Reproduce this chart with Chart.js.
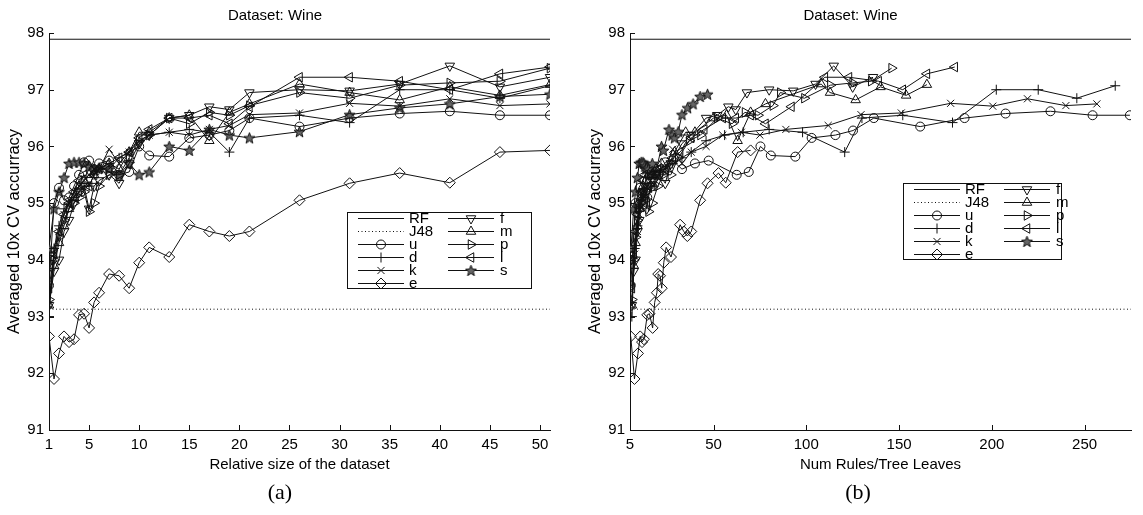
<!DOCTYPE html>
<html><head><meta charset="utf-8">
<script src="https://cdn.jsdelivr.net/npm/chart.js@4.4.1/dist/chart.umd.min.js"></script>
<style>
html,body{margin:0;padding:0;background:#fff;}
#wrap{position:relative;width:1143px;height:515px;overflow:hidden;background:#fff;}
#cA{position:absolute;left:0;top:0;width:570px;height:515px;}
#cB{position:absolute;left:570px;top:0;width:573px;height:515px;}
.cap{position:absolute;top:480px;height:24px;line-height:24px;width:60px;text-align:center;font-family:"Liberation Serif","DejaVu Serif",serif;font-size:22px;color:#000;}
</style></head><body>
<div id="wrap">
<canvas id="cA" width="570" height="515"></canvas>
<canvas id="cB" width="573" height="515"></canvas>
<div class="cap" style="left:250px">(a)</div>
<div class="cap" style="left:828px">(b)</div>
</div>
<script>
// ---------------- data ----------------
const chartTitle = 'Dataset: Wine';
const yTitle = 'Averaged 10x CV accurracy';
const xTitleA = 'Relative size of the dataset';
const xTitleB = 'Num Rules/Tree Leaves';
const seriesNames = ['RF','J48','u','d','k','e','f','m','p','l','s'];
const rfAcc = 97.89;
const j48Acc = 93.13;
const yTicks = [91,92,93,94,95,96,97,98];
const xTicksA = [1,5,10,15,20,25,30,35,40,45,50];
const xTicksB = [5,50,100,150,200,250];
const xRangeA = [1,51];
const xRangeB = [5,275];
const yRange = [91,98];

const relSize = [1,1.5,2,2.5,3,3.5,4,4.5,5,5.5,6,7,8,9,10,11,13,15,17,19,21,26,31,36,41,46,51];

const accU = [93.55,95.0,95.27,95.05,95.1,95.3,95.5,95.72,95.75,95.6,95.7,95.75,95.5,95.55,96.0,95.84,95.82,96.15,96.2,96.28,96.5,96.35,96.5,96.58,96.62,96.55,96.55];
const accD = [93.0,94.2,94.6,94.9,95.0,95.1,95.2,95.3,95.3,95.5,95.6,95.7,95.8,95.9,96.1,96.2,96.25,96.3,96.25,95.9,96.5,96.55,96.42,97.0,97.0,96.85,97.07];
const accK = [93.2,94.1,94.5,94.8,95.0,95.2,95.3,95.4,95.5,95.6,95.6,95.95,95.7,95.9,96.0,96.2,96.25,96.2,96.3,96.37,96.56,96.59,96.76,96.71,96.84,96.72,96.75];
const accE = [92.65,91.9,92.35,92.65,92.55,92.6,93.03,93.05,92.8,93.25,93.42,93.75,93.72,93.5,93.95,94.22,94.05,94.62,94.5,94.42,94.5,95.05,95.35,95.53,95.36,95.9,95.93];
const accF = [93.2,93.8,94.0,94.5,94.7,95.0,95.2,95.3,94.9,95.3,95.4,95.5,95.35,95.7,96.05,96.2,96.5,96.55,96.7,96.65,96.95,97.0,96.98,97.1,97.42,97.05,97.22];
const accM = [93.2,93.9,94.3,94.6,94.9,95.1,95.3,95.4,95.5,95.5,95.6,95.7,95.6,95.9,96.25,96.25,96.5,96.55,96.1,96.6,96.75,97.1,96.95,96.82,97.05,96.9,97.09];
const accP = [93.3,94.0,94.4,94.7,94.9,95.0,95.1,95.2,94.85,95.0,95.3,95.5,95.5,95.8,96.1,96.2,96.5,96.4,96.6,96.55,96.72,96.95,96.85,97.08,97.12,97.15,97.38];
const accL = [93.5,94.1,94.5,94.8,95.0,95.2,95.4,95.5,95.3,95.5,95.6,95.6,95.8,95.9,96.15,96.3,96.5,96.5,96.55,96.4,96.7,97.22,97.22,97.15,97.0,97.28,97.4];
const accS = [94.2,94.9,95.2,95.45,95.7,95.72,95.72,95.7,95.65,95.6,95.62,95.6,95.5,95.7,95.5,95.55,96.0,95.93,96.3,96.2,96.15,96.26,96.56,96.68,96.75,96.88,96.92];

const rulesU = [5.4,8,10.3,12,14.3,17,20.2,24,28,33,40,47.4,62.5,69,75.3,80.9,94.1,102.9,115.7,125.2,136.4,161.4,185.3,207.4,231.6,254.3,274.4];
const rulesD = [6,7.5,9,10,11,12.5,14,16,18,21,24,28,33,38,46,56,66,80,98,120.7,130,152,178.8,202.4,225,245.8,266.5];
const rulesK = [6,7.5,9,10,11,12.5,14,16,18,21,24,28,33,38,46,55,65,75,89,111.8,129.5,151.2,177.8,200.5,219.2,239.9,256.6];
const rulesE = [5.4,7.4,9.3,10.5,11.5,12.5,14.3,15.5,17.2,18.3,19.5,20.2,21.2,22.1,23.2,24.5,27.1,32,34,35.9,38,42.8,46.8,52.7,56.6,63,70];
const rulesF = [6,7,8,9,10,11,12,13,14,16,18,21,24,27,33,38,46,52,58,62,68,80,93,105,114.8,125,136];
const rulesM = [6,7,8,9,10,11,12,13.5,15,17,19,22,25,29,35,40,50,57,63,70,78,108,112.8,126.6,140,153.8,165];
const rulesP = [6,7,8,9,10,11,12.5,14,15,17,20,23,27,31,37,43,52,60,67,74,82,86,99,113,125,135,146];
const rulesL = [6,7,8,9,10,11,12,13,15,17,20,24,28,32,38,45,55,62,70,78,92,110,123,139,152,165,180];
const rulesS = [5.5,7,8,9,10,11,12,12.5,13,13.5,14,15,16.5,17,18,19,22,23,26,27.7,29,31,33,36,39,42.8,46.8];

// ---------------- styles ----------------
const FONT = '"Liberation Sans", Arial, Helvetica, sans-serif';
Chart.defaults.font.family = FONT;
Chart.defaults.font.size = 15;
Chart.defaults.color = '#000';
const INK = '#111';

function starImage(){
  const c = document.createElement('canvas');
  c.width = 13; c.height = 13;
  const g = c.getContext('2d');
  g.strokeStyle = INK; g.fillStyle = '#666'; g.lineWidth = 1;
  g.beginPath();
  for (let i = 0; i < 10; i++) {
    const r = i % 2 ? 2.4 : 5.8;
    const a = -Math.PI/2 + i*Math.PI/5;
    const px = 6.5 + r*Math.cos(a), py = 7 + r*Math.sin(a);
    if (i) g.lineTo(px, py); else g.moveTo(px, py);
  }
  g.closePath(); g.fill(); g.stroke();
  return c;
}
const STAR = starImage();

const markerStyle = {
  u: {pointStyle:'circle', pointRadius:4.5, pointRotation:0},
  d: {pointStyle:'cross', pointRadius:5, pointRotation:0},
  k: {pointStyle:'crossRot', pointRadius:5, pointRotation:0},
  e: {pointStyle:'rectRot', pointRadius:5.5, pointRotation:0},
  f: {pointStyle:'triangle', pointRadius:5.5, pointRotation:180},
  m: {pointStyle:'triangle', pointRadius:5.5, pointRotation:0},
  p: {pointStyle:'triangle', pointRadius:5.5, pointRotation:90},
  l: {pointStyle:'triangle', pointRadius:5.5, pointRotation:270},
  s: {pointStyle:STAR, pointRadius:5, pointRotation:0}
};

function zip(xs, ys){ return xs.map((x,i)=>({x:x, y:ys[i]})); }

function buildDatasets(xSets, xRange){
  const accs = {u:accU,d:accD,k:accK,e:accE,f:accF,m:accM,p:accP,l:accL,s:accS};
  const ds = [];
  ds.push({label:'RF', data:[{x:xRange[0],y:rfAcc},{x:xRange[1],y:rfAcc}], borderColor:INK, borderWidth:1, pointRadius:0, showLine:true, fill:false});
  ds.push({label:'J48', data:[{x:xRange[0],y:j48Acc},{x:xRange[1],y:j48Acc}], borderColor:INK, borderWidth:1, borderDash:[1,2.5], pointRadius:0, showLine:true, fill:false});
  ['u','d','k','e','f','m','p','l','s'].forEach(k=>{
    const m = markerStyle[k];
    ds.push(Object.assign({
      label:k, data:zip(xSets[k], accs[k]), borderColor:INK, borderWidth:1,
      pointBorderColor:INK, pointBackgroundColor:'rgba(0,0,0,0)', pointBorderWidth:1,
      showLine:true, fill:false, tension:0
    }, m));
  });
  return ds;
}

// inward tick marks (MATLAB style)
const inTicks = {
  id:'inTicks',
  afterDraw(chart){
    const {ctx, chartArea:a} = chart;
    const xs = chart.scales.x, ys = chart.scales.y;
    ctx.save(); ctx.strokeStyle = INK; ctx.lineWidth = 1; ctx.beginPath();
    xs.ticks.forEach(t=>{ const px = Math.round(xs.getPixelForValue(t.value))+0.5; ctx.moveTo(px, a.bottom); ctx.lineTo(px, a.bottom-5); });
    ys.ticks.forEach(t=>{ const py = Math.round(ys.getPixelForValue(t.value))+0.5; ctx.moveTo(a.left, py); ctx.lineTo(a.left+5, py); });
    ctx.stroke(); ctx.restore();
  }
};

// boxed two-column legend
const boxLegend = {
  id:'boxLegend',
  afterDraw(chart, args, o){
    const ctx = chart.ctx, b = o.box;
    ctx.save();
    ctx.fillStyle = '#fff'; ctx.fillRect(b.x, b.y, b.w, b.h);
    ctx.strokeStyle = INK; ctx.lineWidth = 1;
    ctx.strokeRect(b.x+0.5, b.y+0.5, b.w, b.h);
    ctx.font = '15px ' + FONT; ctx.textBaseline = 'middle'; ctx.textAlign = 'left';
    chart.data.datasets.forEach((ds, i)=>{
      const col = i < o.perCol ? 0 : 1;
      const row = col ? i - o.perCol : i;
      const c = o.cols[col];
      const y = Math.round(b.y + o.row0 + row*o.rowH) + 0.5;
      ctx.strokeStyle = INK; ctx.lineWidth = 1;
      ctx.setLineDash(ds.borderDash || []);
      ctx.beginPath(); ctx.moveTo(b.x + c.x0, y); ctx.lineTo(b.x + c.x1, y); ctx.stroke();
      ctx.setLineDash([]);
      if (ds.pointRadius > 0) {
        ctx.fillStyle = 'rgba(0,0,0,0)';
        Chart.helpers.drawPoint(ctx, {pointStyle:ds.pointStyle, rotation:ds.pointRotation||0, radius:ds.pointRadius, borderWidth:1}, b.x + (c.x0+c.x1)/2, y);
      }
      ctx.fillStyle = '#000';
      ctx.fillText(ds.label, b.x + c.tx, y);
    });
    ctx.restore();
  }
};

function makeChart(id, datasets, xRange, xTicks, xTitle, yAxisWidth, yTitlePad, padRight, legendBox){
  return new Chart(document.getElementById(id), {
    type:'scatter',
    data:{datasets:datasets},
    plugins:[inTicks, boxLegend],
    options:{
      responsive:false, animation:false, events:[],
      layout:{padding:{left:0, right:padRight, top:0, bottom:0}},
      plugins:{
        legend:{display:false}, tooltip:{enabled:false},
        title:{display:true, text:chartTitle, color:'#000', font:{size:15, weight:'normal', family:FONT}, padding:{top:7, bottom:8}},
        boxLegend:{box:legendBox, perCol:6, row0:6, rowH:13,
          cols:[{x0:11, x1:57, tx:62},{x0:101, x1:147, tx:153}]}
      },
      scales:{
        x:{type:'linear', min:xRange[0], max:xRange[1],
          afterBuildTicks(s){ s.ticks = xTicks.map(v=>({value:v})); },
          afterFit(s){ s.height = 85; },
          grid:{display:false, drawTicks:false}, border:{display:true, color:INK, width:1},
          ticks:{padding:6, autoSkip:false, maxRotation:0, color:'#000', font:{size:15}},
          title:{display:true, text:xTitle, color:'#000', font:{size:15}, padding:{top:0, bottom:41}}
        },
        y:{type:'linear', min:yRange[0], max:yRange[1],
          afterBuildTicks(s){ s.ticks = yTicks.map(v=>({value:v})); },
          afterFit(s){ s.width = yAxisWidth; },
          grid:{display:false, drawTicks:false}, border:{display:true, color:INK, width:1},
          ticks:{padding:5, color:'#000', font:{size:15}},
          title:{display:true, text:yTitle, color:'#000', font:{size:16.5}, padding:{top:yTitlePad, bottom:0}}
        }
      }
    }
  });
}

const xsA = {u:relSize,d:relSize,k:relSize,e:relSize,f:relSize,m:relSize,p:relSize,l:relSize,s:relSize};
const xsB = {u:rulesU,d:rulesD,k:rulesK,e:rulesE,f:rulesF,m:rulesM,p:rulesP,l:rulesL,s:rulesS};

makeChart('cA', buildDatasets(xsA, xRangeA), xRangeA, xTicksA, xTitleA, 49, 5, 20, {x:347, y:212, w:184, h:76});
makeChart('cB', buildDatasets(xsB, xRangeB), xRangeB, xTicksB, xTitleB, 60, 16, 12, {x:333, y:183, w:158, h:76});
</script>
</body></html>
